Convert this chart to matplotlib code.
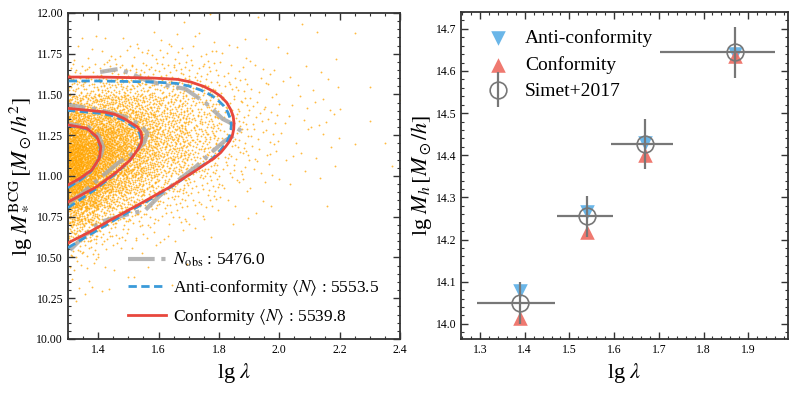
import numpy as np
import matplotlib
matplotlib.use('Agg')
import matplotlib.pyplot as plt
from matplotlib.ticker import MultipleLocator
from matplotlib.legend_handler import HandlerErrorbar

plt.rcParams['font.family'] = 'serif'
plt.rcParams['font.serif'] = ['Liberation Serif', 'DejaVu Serif']
plt.rcParams['mathtext.fontset'] = 'stix'

lam_edges = [1.30, 1.35, 1.40, 1.45, 1.50, 1.55, 1.60, 1.70, 1.80, 1.90, 2.00, 2.20, 2.40]
mstar_edges = np.arange(10.0, 12.01, 0.1)
# counts per (lg lambda column, lg M* row from 10.0 upward)
counts = [
    [0, 0, 1, 2, 4, 12, 33, 71, 126, 183, 216, 208, 163, 102, 53, 22, 8, 2, 1, 0],
    [0, 0, 1, 2, 3, 10, 26, 57, 102, 150, 177, 172, 136, 86, 45, 19, 7, 2, 1, 0],
    [0, 0, 1, 1, 1, 4, 12, 29, 58, 96, 128, 139, 123, 89, 52, 25, 9, 3, 1, 0],
    [0, 0, 0, 1, 1, 2, 7, 18, 38, 66, 94, 109, 102, 78, 49, 24, 10, 3, 1, 0],
    [0, 0, 0, 1, 0, 2, 5, 13, 27, 47, 67, 79, 78, 63, 43, 23, 11, 4, 1, 0],
    [0, 0, 0, 0, 1, 1, 3, 8, 18, 33, 48, 60, 61, 51, 36, 21, 10, 4, 1, 0],
    [0, 0, 0, 1, 1, 1, 4, 10, 22, 39, 60, 76, 82, 74, 56, 36, 19, 9, 3, 1],
    [0, 0, 0, 0, 0, 0, 2, 5, 11, 19, 30, 39, 44, 42, 34, 23, 14, 7, 3, 1],
    [0, 0, 0, 0, 0, 0, 0, 2, 3, 7, 11, 15, 17, 17, 15, 11, 7, 3, 2, 0],
    [0, 0, 0, 0, 0, 0, 0, 1, 2, 3, 5, 7, 8, 8, 7, 6, 4, 2, 1, 1],
    [0, 0, 0, 0, 0, 0, 0, 0, 1, 2, 3, 4, 6, 6, 6, 5, 3, 2, 1, 1],
    [0, 0, 0, 0, 0, 0, 0, 0, 0, 0, 1, 1, 1, 1, 2, 1, 0, 0, 1, 0],
]

# contour lines (lg lambda, lg M*)
obs_outer = [(1.307, 10.546), (1.357, 10.638), (1.4065, 10.718), (1.490, 10.761), (1.556, 10.791),
             (1.606, 10.883), (1.666, 10.975), (1.726, 11.061), (1.7725, 11.141), (1.819, 11.215),
             (1.859, 11.258), (1.872, 11.294), (1.8125, 11.350), (1.756, 11.448), (1.689, 11.534),
             (1.606, 11.564), (1.556, 11.589), (1.506, 11.630), (1.466, 11.656), (1.4065, 11.638)]
obs_mid = [(1.300, 10.834), (1.340, 10.883), (1.4065, 10.988), (1.466, 11.080), (1.523, 11.147),
           (1.553, 11.209), (1.563, 11.264), (1.540, 11.313), (1.490, 11.362), (1.4065, 11.405),
           (1.300, 11.436)]
obs_inner = [(1.300, 10.939), (1.340, 10.975), (1.380, 11.037), (1.4065, 11.110), (1.4165, 11.178),
             (1.400, 11.252), (1.3665, 11.301), (1.300, 11.319)]

anti_outer = [(1.300, 10.560), (1.368, 10.635), (1.445, 10.720), (1.544, 10.826), (1.632, 10.922),
              (1.710, 11.018), (1.777, 11.105), (1.799, 11.144), (1.815, 11.180), (1.828, 11.215),
              (1.836, 11.250), (1.840, 11.284), (1.841, 11.318), (1.837, 11.355), (1.829, 11.392),
              (1.815, 11.432), (1.795, 11.468), (1.773, 11.497), (1.740, 11.527), (1.700, 11.552),
              (1.660, 11.568), (1.580, 11.577), (1.496, 11.580), (1.400, 11.583), (1.300, 11.583)]
anti_mid = [(1.300, 10.805), (1.388, 10.915), (1.455, 11.010), (1.500, 11.085), (1.530, 11.160),
            (1.539, 11.198), (1.541, 11.232), (1.537, 11.264), (1.526, 11.292), (1.482, 11.343),
            (1.452, 11.367), (1.416, 11.383), (1.300, 11.403)]
anti_inner = [(1.300, 10.928), (1.337, 10.972), (1.376, 11.028), (1.402, 11.104), (1.407, 11.178),
              (1.394, 11.238), (1.362, 11.290), (1.300, 11.310)]

conf_outer = [(1.300, 10.589), (1.373, 10.658), (1.451, 10.740), (1.551, 10.842), (1.639, 10.934),
              (1.717, 11.026), (1.784, 11.109), (1.806, 11.144), (1.822, 11.180), (1.836, 11.215),
              (1.845, 11.252), (1.849, 11.288), (1.850, 11.325), (1.847, 11.368), (1.839, 11.407),
              (1.826, 11.450), (1.806, 11.489), (1.783, 11.518), (1.749, 11.550), (1.706, 11.577),
              (1.663, 11.593), (1.580, 11.601), (1.496, 11.604), (1.400, 11.607), (1.300, 11.607)]
conf_mid = [(1.300, 10.840), (1.3955, 10.934), (1.462, 11.026), (1.506, 11.098), (1.534, 11.170),
            (1.543, 11.205), (1.545, 11.241), (1.541, 11.272), (1.529, 11.302), (1.484, 11.354),
            (1.455, 11.378), (1.4165, 11.394), (1.300, 11.415)]
conf_inner = [(1.300, 10.945), (1.340, 10.986), (1.379, 11.037), (1.404, 11.109), (1.409, 11.180),
              (1.3955, 11.241), (1.362, 11.293), (1.300, 11.313)]

# ---- right panel: halo mass per richness bin ----
lam_bins = [1.39, 1.54, 1.67, 1.87]
simet_mh = [14.049, 14.255, 14.427, 14.644]
simet_xlo = [0.097, 0.067, 0.077, 0.168]
simet_xhi = [0.078, 0.058, 0.062, 0.090]
simet_yerr = [0.050, 0.048, 0.060, 0.060]
anti_mh = [14.077, 14.266, 14.428, 14.640]
conf_mh = [14.014, 14.219, 14.401, 14.636]


def halton(i, b):
    f, r = 1.0, 0.0
    while i > 0:
        f /= b
        r += f * (i % b)
        i //= b
    return r


# spread each cell's count evenly (Halton positions) inside the cell
px, py = [], []
k = 1
for ci, col in enumerate(counts):
    x0, x1 = lam_edges[ci], lam_edges[ci + 1]
    for ri, n in enumerate(col):
        y0, y1 = mstar_edges[ri], mstar_edges[ri + 1]
        for _ in range(n):
            px.append(x0 + halton(k, 2) * (x1 - x0))
            py.append(y0 + halton(k, 3) * (y1 - y0))
            k += 1

fig = plt.figure(figsize=(7.97, 3.95), dpi=100)
ax1 = fig.add_axes([0.0853, 0.1418, 0.4167, 0.8253])
ax2 = fig.add_axes([0.5784, 0.1418, 0.4103, 0.8278])

red = '#E8473D'
blue = '#3A9AD9'
grey = '#AAAAAA'

ax1.scatter(px, py, s=1.8, color='orange', alpha=0.75, linewidths=0, zorder=1)
for i, c in enumerate([obs_outer, obs_mid, obs_inner]):
    c = np.array(c)
    ax1.plot(c[:, 0], c[:, 1], ls='-.', lw=3, color=grey, alpha=0.85, zorder=2,
             label=r'$N_{\rm obs}$ : 5476.0' if i == 0 else None)
for i, c in enumerate([anti_outer, anti_mid, anti_inner]):
    c = np.array(c)
    ax1.plot(c[:, 0], c[:, 1], ls=(0, (3, 1.6)), lw=2, color=blue, zorder=3,
             label=r'Anti-conformity $\langle N\rangle$ : 5553.5' if i == 0 else None)
for i, c in enumerate([conf_outer, conf_mid, conf_inner]):
    c = np.array(c)
    ax1.plot(c[:, 0], c[:, 1], ls='-', lw=2, color=red, zorder=4,
             label=r'Conformity $\langle N\rangle$ : 5539.8' if i == 0 else None)

ax1.set_xlim(1.3, 2.4)
ax1.set_ylim(10.0, 12.0)
ax1.xaxis.set_major_locator(MultipleLocator(0.2))
ax1.xaxis.set_minor_locator(MultipleLocator(0.05))
ax1.yaxis.set_major_locator(MultipleLocator(0.25))
ax1.yaxis.set_minor_locator(MultipleLocator(0.05))
ax1.set_xlabel(r'lg $\lambda$', fontsize=16)
ax1.set_ylabel(r'lg $M_*^{\rm BCG}\,[M_\odot/h^2]$', fontsize=16, labelpad=2)
ax1.legend(loc='lower right', bbox_to_anchor=(0.975, 0.0), frameon=False, fontsize=12.5,
           handlelength=2.2, handletextpad=0.4, labelspacing=0.5, borderaxespad=0.3)

ax2.scatter(lam_bins, anti_mh, marker='v', s=110, color='#5AAEE6', alpha=0.9,
            linewidths=0, zorder=3, label='Anti-conformity')
ax2.scatter(lam_bins, conf_mh, marker='^', s=110, color='#EE6A60', alpha=0.9,
            linewidths=0, zorder=3, label='Conformity')
ax2.errorbar(lam_bins, simet_mh, xerr=[simet_xlo, simet_xhi], yerr=simet_yerr,
             fmt='o', ms=12, mfc='none', mec='#777777', mew=1.2, ecolor='#777777',
             elinewidth=1.6, capsize=0, zorder=4, label='Simet+2017')
ax2.set_xlim(1.2575, 1.989)
ax2.set_ylim(13.964, 14.740)
ax2.xaxis.set_major_locator(MultipleLocator(0.1))
ax2.xaxis.set_minor_locator(MultipleLocator(0.02))
ax2.yaxis.set_major_locator(MultipleLocator(0.1))
ax2.yaxis.set_minor_locator(MultipleLocator(0.02))
ax2.set_xlabel(r'lg $\lambda$', fontsize=16)
ax2.set_ylabel(r'lg $M_h\,[M_\odot/h]$', fontsize=16, labelpad=1)
ax2.legend(loc='upper left', frameon=False, fontsize=14, handletextpad=0.4,
           labelspacing=0.45, borderaxespad=0.5,
           handler_map={type(ax2.containers[0]): HandlerErrorbar(xerr_size=0, yerr_size=0.9)})

for ax in (ax1, ax2):
    ax.tick_params(which='both', direction='in', top=True, right=True, labelsize=8.5,
                   color='#333333')
    ax.tick_params(which='major', length=5, width=1)
    ax.tick_params(which='minor', length=2.5, width=0.8)
    for s in ax.spines.values():
        s.set_linewidth(1.3)
        s.set_color('#333333')

fig.savefig('out.png', dpi=100)
